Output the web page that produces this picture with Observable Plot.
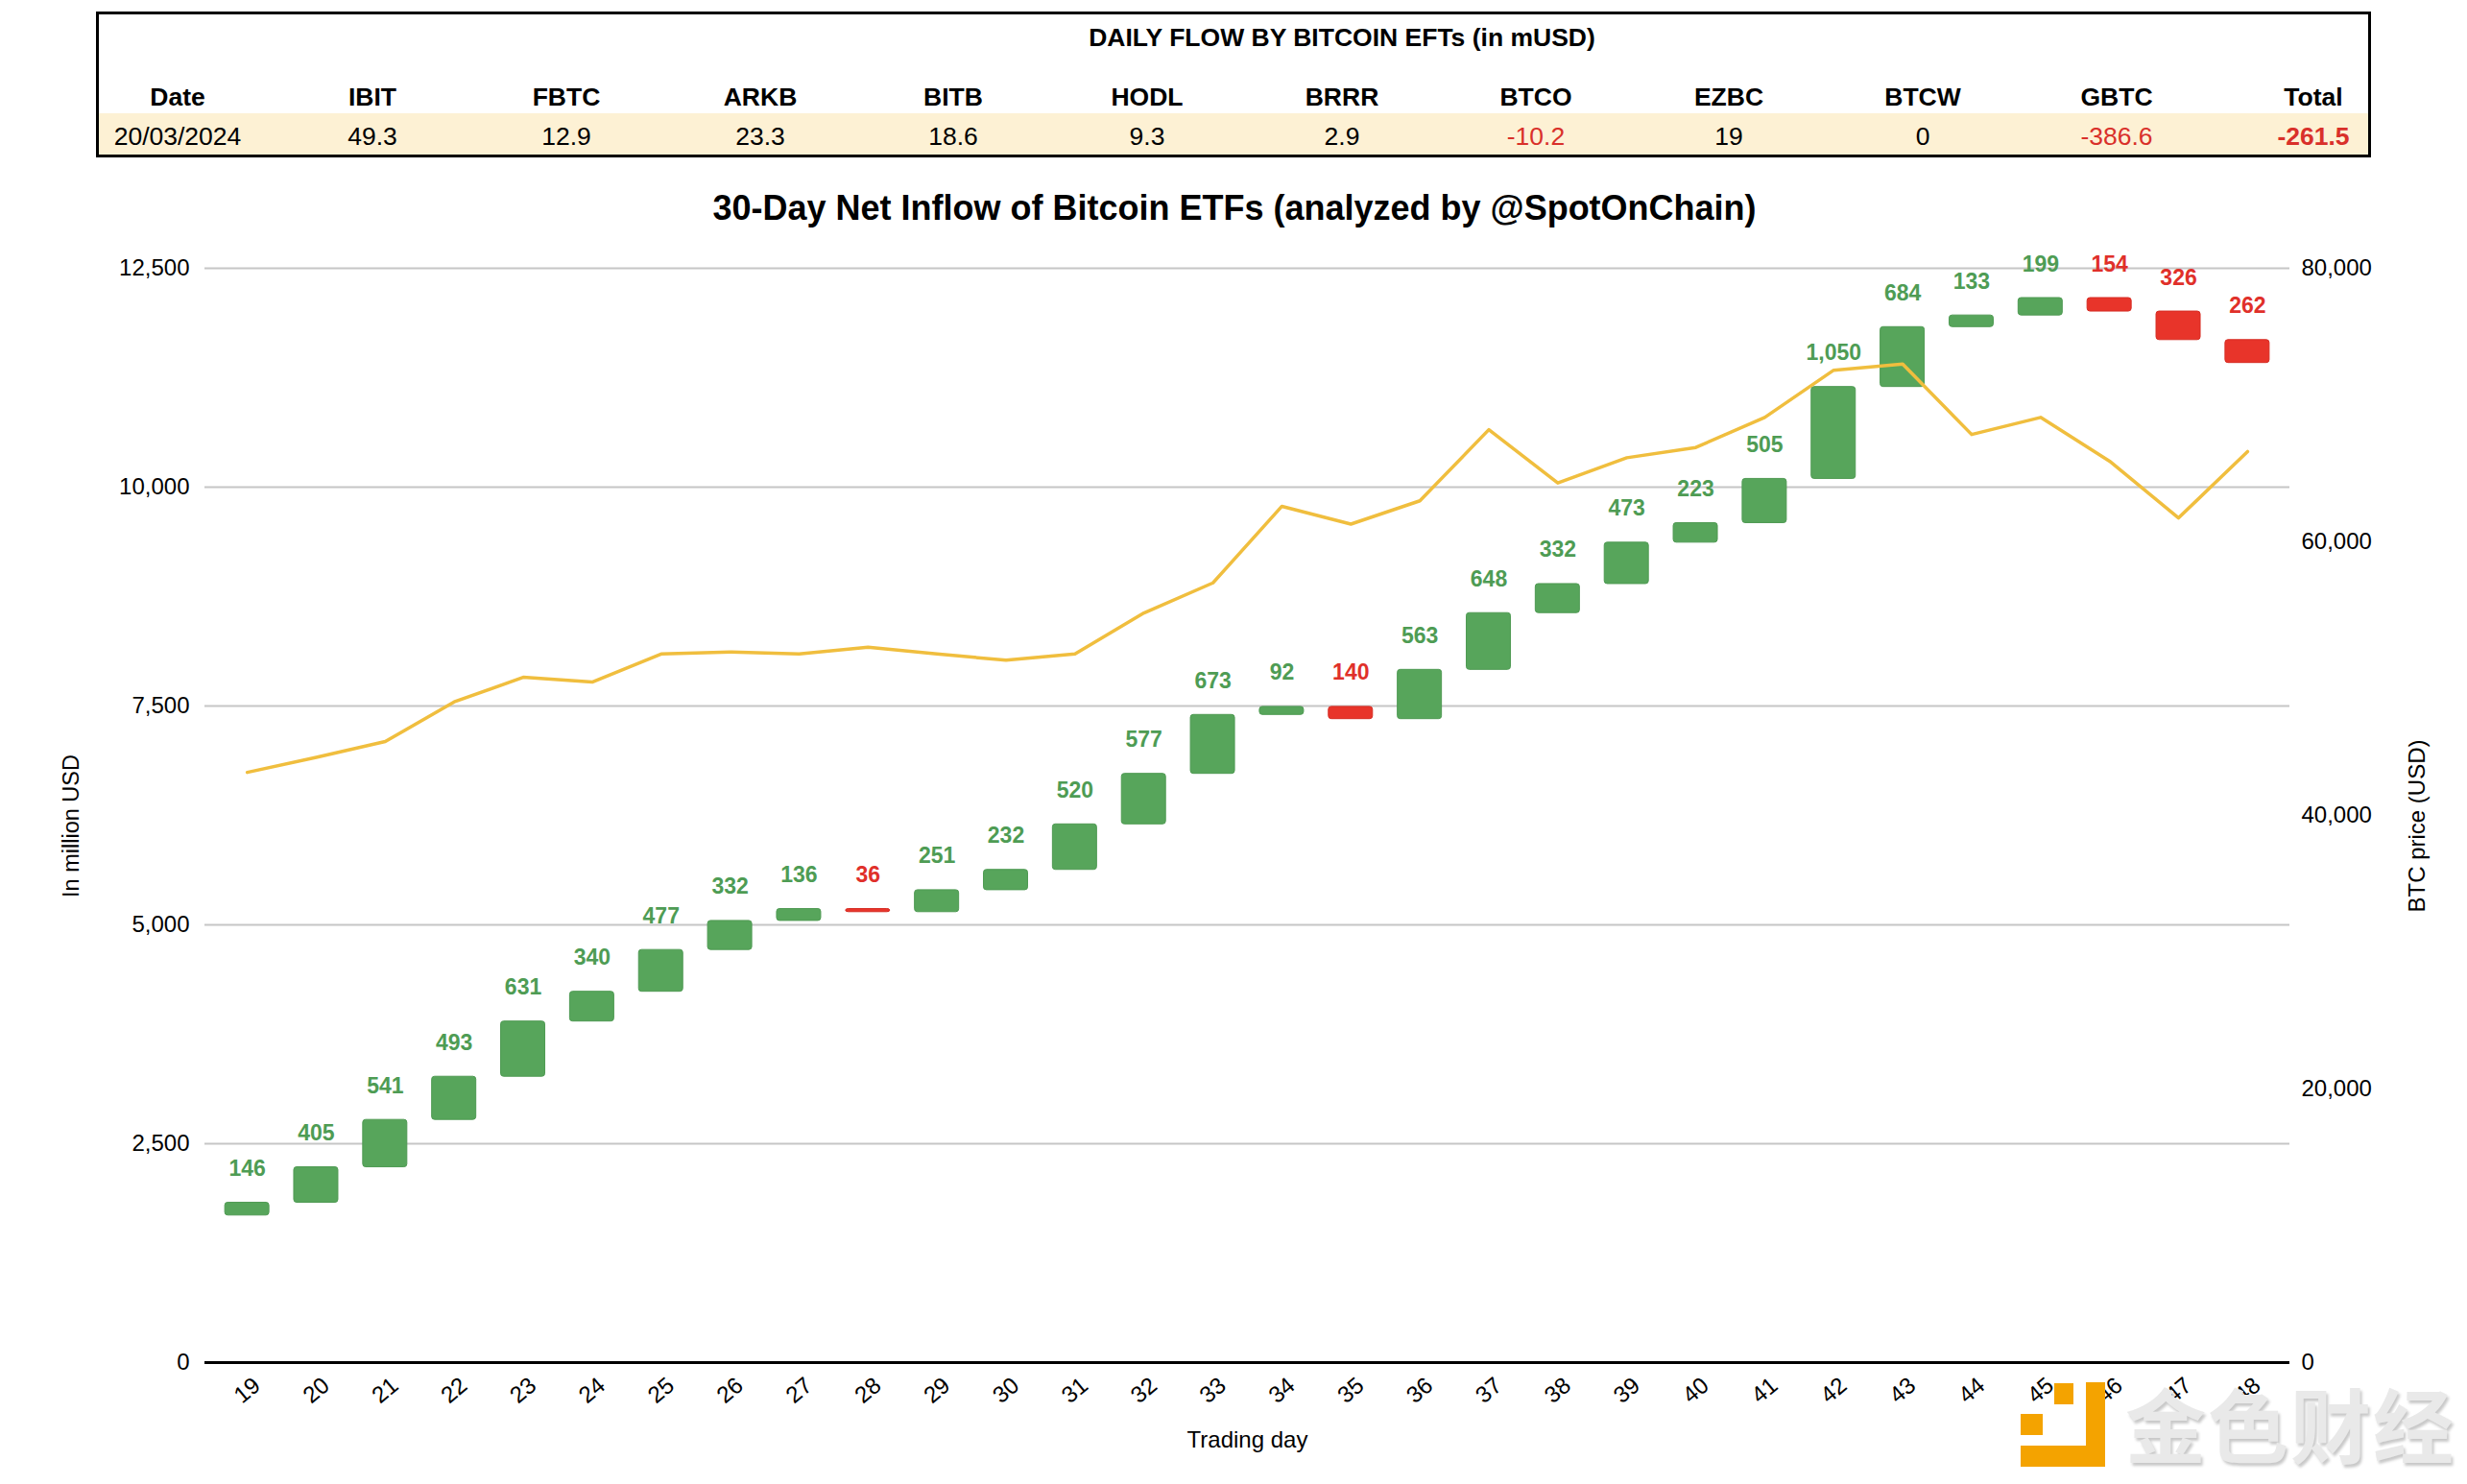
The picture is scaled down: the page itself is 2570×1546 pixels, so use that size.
<!DOCTYPE html>
<html><head><meta charset="utf-8">
<script src="https://cdn.jsdelivr.net/npm/d3@7"></script>
<script src="https://cdn.jsdelivr.net/npm/@observablehq/plot@0.6"></script>
<style>
body{margin:0;background:#fff;font-family:"Liberation Sans",Arial,sans-serif;}
#root{position:relative;width:2570px;height:1546px;overflow:hidden;background:#fff;}
#tbl{position:absolute;left:100px;top:12px;width:2364px;height:146px;border:3.5px solid #000;}
#band{position:absolute;left:0;right:0;top:103px;height:43px;background:#fdf1d4;}
.cell{position:absolute;transform:translateX(-50%);white-space:nowrap;font-size:26.5px;line-height:1;}
.hdr{font-weight:bold;}
#ttitle{position:absolute;left:1398px;top:26px;transform:translateX(-50%);font-weight:bold;font-size:26.5px;white-space:nowrap;line-height:1;}
#ctitle{position:absolute;left:1286px;top:197px;transform:translateX(-50%);font-weight:bold;font-size:36px;white-space:nowrap;line-height:1.1;}
#chart{position:absolute;left:0;top:240px;}
.wm{position:absolute;background:#f4a300;}
#wmtext{position:absolute;left:2214px;top:1440px;font-family:"Noto Sans CJK SC";font-weight:bold;font-size:84px;color:#e9e9e9;letter-spacing:2px;text-shadow:2px 3px 3px rgba(0,0,0,0.22);white-space:nowrap;line-height:1;}
</style></head><body><div id="root"></div>
<script>
// ---- data ----
const days = [19,20,21,22,23,24,25,26,27,28,29,30,31,32,33,34,35,36,37,38,39,40,41,42,43,44,45,46,47,48];
const flows = [146,405,541,493,631,340,477,332,136,-36,251,232,520,577,673,92,-140,563,648,332,473,223,505,1050,684,133,199,-154,-326,-262];
const startCumulative = 1680;
const btcPrice = [43150,44250,45400,48300,50100,49750,51800,51950,51800,52300,51800,51350,51800,54800,57000,62600,61300,63000,68200,64300,66150,66900,69100,72550,73000,67850,69100,65900,61750,66600];
const leftTicks = [0,2500,5000,7500,10000,12500];
const rightTicks = [0,20000,40000,60000,80000];
const chartTitle = "30-Day Net Inflow of Bitcoin ETFs (analyzed by @SpotOnChain)";
const tableTitle = "DAILY FLOW BY BITCOIN EFTs (in mUSD)";
const tableHeaders = ["Date","IBIT","FBTC","ARKB","BITB","HODL","BRRR","BTCO","EZBC","BTCW","GBTC","Total"];
const tableValues = ["20/03/2024","49.3","12.9","23.3","18.6","9.3","2.9","-10.2","19","0","-386.6","-261.5"];
const leftLabel = "In million USD";
const rightLabel = "BTC price (USD)";
const xLabel = "Trading day";

// ---- page ----
const root = document.getElementById("root");
const colX = [185,388,590,792,993,1195,1398,1600,1801,2003,2205,2410];
const tbl = document.createElement("div"); tbl.id = "tbl"; root.appendChild(tbl);
const band = document.createElement("div"); band.id = "band"; tbl.appendChild(band);
const tt = document.createElement("div"); tt.id = "ttitle"; tt.textContent = tableTitle; root.appendChild(tt);
tableHeaders.forEach((h, i) => {
  const d = document.createElement("div");
  d.className = "cell hdr"; d.textContent = h;
  d.style.left = colX[i] + "px"; d.style.top = "88px";
  root.appendChild(d);
});
tableValues.forEach((v, i) => {
  const d = document.createElement("div");
  d.className = "cell"; d.textContent = v;
  d.style.left = colX[i] + "px"; d.style.top = "129px";
  if (v.startsWith("-")) d.style.color = "#d9302a";
  if (i === tableValues.length - 1) d.style.fontWeight = "bold";
  root.appendChild(d);
});
const ct = document.createElement("div"); ct.id = "ctitle"; ct.textContent = chartTitle; root.appendChild(ct);

// ---- chart ----
const k = 12500 / 80000;
let c = startCumulative;
const data = days.map((d, i) => {
  const y1 = c; c += flows[i];
  return {day: d, flow: flows[i], y1, y2: c, top: Math.max(y1, c), price: btcPrice[i]};
});
const green = "#57a55b", red = "#e8342a";
const fmt = v => v.toLocaleString("en-US");

const chart = Plot.plot({
  width: 2570, height: 1306,
  marginTop: 39, marginBottom: 127, marginLeft: 213, marginRight: 185,
  style: {fontFamily: '"Liberation Sans", Arial, sans-serif', fontSize: "24px", color: "#000", background: "transparent", overflow: "visible"},
  x: {type: "band", domain: days, paddingInner: 0.36, paddingOuter: 0.294, round: false, axis: null},
  y: {domain: [0, 12500], axis: null},
  color: {type: "identity"},
  marks: [
    Plot.ruleY(leftTicks.filter(t => t > 0), {stroke: "#c6c6c6", strokeWidth: 2}),
    Plot.axisY(leftTicks, {anchor: "left", tickSize: 0, tickPadding: 16, label: null, tickFormat: fmt, fontSize: 24}),
    Plot.axisY(rightTicks.map(t => t * k), {anchor: "right", tickSize: 0, tickPadding: 12, label: null, tickFormat: d => fmt(Math.round(d / k)), fontSize: 24}),
    Plot.barY(data, {x: "day", y1: "y1", y2: "y2", fill: d => d.flow >= 0 ? green : red, stroke: d => d.flow >= 0 ? "#4f9a53" : "#d62d24", strokeWidth: 1, rx: 3}),
    Plot.lineY(data, {x: "day", y: d => d.price * k, stroke: "#f0be3e", strokeWidth: 3.5}),
    Plot.text(data, {x: "day", y: "top", text: d => fmt(Math.abs(d.flow)), dy: -28, lineAnchor: "bottom", fill: d => d.flow >= 0 ? "#4e9c54" : "#e0302a", fontWeight: "bold", fontSize: 23}),
    Plot.ruleY([0], {stroke: "#000", strokeWidth: 3}),
    Plot.text(days, {x: d => d, frameAnchor: "bottom", dy: 29, rotate: -40, text: d => String(d), fontSize: 24, textAnchor: "middle", lineAnchor: "middle"}),
    Plot.text([leftLabel], {frameAnchor: "left", dx: -139, dy: 11, rotate: -90, fontSize: 23.5, textAnchor: "middle", lineAnchor: "middle"}),
    Plot.text([rightLabel], {frameAnchor: "right", dx: 133, dy: 11, rotate: -90, fontSize: 24, textAnchor: "middle", lineAnchor: "middle"}),
    Plot.text([xLabel], {frameAnchor: "bottom", dy: 81, fontSize: 24, textAnchor: "middle", lineAnchor: "middle"})
  ]
});
chart.id = "chart";
root.appendChild(chart);

// ---- watermark ----
[[2140,1441,20,22],[2105,1473,23,22],[2173,1440,20,88],[2105,1506,88,22]].forEach(([x,y,w,h]) => {
  const d = document.createElement("div"); d.className = "wm";
  d.style.left = x + "px"; d.style.top = y + "px"; d.style.width = w + "px"; d.style.height = h + "px";
  root.appendChild(d);
});
const wt = document.createElement("div"); wt.id = "wmtext"; wt.textContent = "金色财经"; root.appendChild(wt);
</script>
</body></html>
